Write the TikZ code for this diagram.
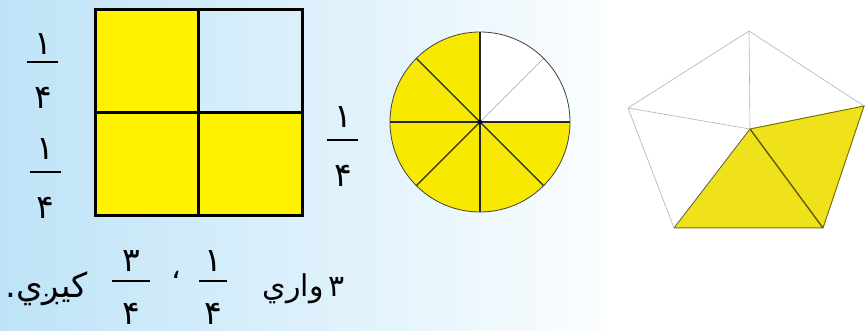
\documentclass[tikz,border=0pt]{standalone}
\usepackage{fontspec}
\newfontfamily\arabicfont[Script=Arabic]{DejaVu Sans}
\TeXXeTstate=1
\definecolor{bgL}{RGB}{190,227,248}
\definecolor{bgR}{RGB}{250,253,254}
\definecolor{yel}{RGB}{255,242,0}
\definecolor{cyel}{RGB}{247,234,0}
\definecolor{pyel}{RGB}{240,226,26}
\tikzset{
  dig/.style={font=\arabicfont\fontsize{33}{33}\selectfont, inner sep=0pt},
  word/.style={font=\arabicfont\fontsize{30}{32}\selectfont, inner sep=0pt},
  bar/.style={line width=1.6pt},
  grid/.style={line width=3pt, line join=miter},
  thin/.style={draw=gray!70, line width=0.6pt},
  thick/.style={draw=black!85, line width=1.3pt},
}
\begin{document}
\begin{tikzpicture}[x=1pt,y=1pt]
\useasboundingbox (0,0) rectangle (865,331);
% background
\shade[left color=bgL, right color=bgR] (0,0) rectangle (601,331);
\fill[white] (601,0) rectangle (865,331);

% square
\fill[yel] (95,115) rectangle (198,321);
\fill[yel] (198,115) rectangle (302,218);
\draw[grid] (95,115) rectangle (302,321);
\draw[grid] (198,115) -- (198,321);
\draw[grid] (95,218) -- (302,218);

% left fractions
\node[dig] (n1) at (43,287) {۱};
\draw[bar] (27,269) -- (58,269);
\node[dig] (d1) at (43,233) {۴};
\node[dig] (n2) at (45,182) {۱};
\draw[bar] (30,159) -- (61,159);
\node[dig] (d2) at (45,123) {۴};

% middle fraction
\node[dig] (n3) at (343,214) {۱};
\draw[bar] (327,191) -- (358,191);
\node[dig] (d3) at (343,155) {۴};

% circle
\coordinate (c) at (480,209);
\fill[cyel] (c) -- ++(0,90) arc[start angle=90, end angle=360, radius=90] -- cycle;
\fill[white] (c) -- ++(90:90) arc[start angle=90, end angle=0, radius=90] -- cycle;
\draw[thin] (c) -- ++(45:90);
\foreach \a in {0,90,135,180,225,270,315}
  \draw[thick] (c) -- ++(\a:90);
\draw[draw=black!75, line width=0.8pt] (c) circle[radius=90];
\fill[black] (c) circle[radius=2.2];

% pentagon
\coordinate (T) at (749,300);
\coordinate (L) at (628,223);
\coordinate (R) at (864,225);
\coordinate (BL) at (674,103);
\coordinate (BR) at (823,103);
\coordinate (C) at (750,202);
\fill[pyel] (C) -- (BL) -- (BR) -- (R) -- cycle;
\draw[thin, draw=gray!60] (T) -- (L) -- (BL);
\draw[thin, draw=gray!60] (T) -- (R);
\draw[thin, draw=gray!60] (C) -- (T);
\draw[thin, draw=gray!60] (C) -- (L);
\draw[draw=gray!70!black, line width=0.8pt] (C) -- (BL);
\draw[draw=black!60!pyel, line width=1.4pt] (C) -- (BR);
\draw[draw=black!50!pyel, line width=1pt] (BL) -- (BR) -- (R) -- (C);

% bottom sentence
\node[word, anchor=east] (w1) at (345,42) {\beginR ۳\,واري\endR};
\node[dig] (n4) at (213,70) {۱};
\draw[bar] (199,50) -- (227,50);
\node[dig] (d4) at (213,17) {۴};
\node[word] (comma) at (176,56) {\beginR ،\endR};
\node[dig] (n5) at (131,70) {۳};
\draw[bar] (112,50) -- (150,50);
\node[dig] (d5) at (131,17) {۴};
\node[word, anchor=west, font=\arabicfont\fontsize{34}{36}\selectfont] (w2) at (5,42) {\beginR کيږي.\endR};
\end{tikzpicture}
\end{document}
